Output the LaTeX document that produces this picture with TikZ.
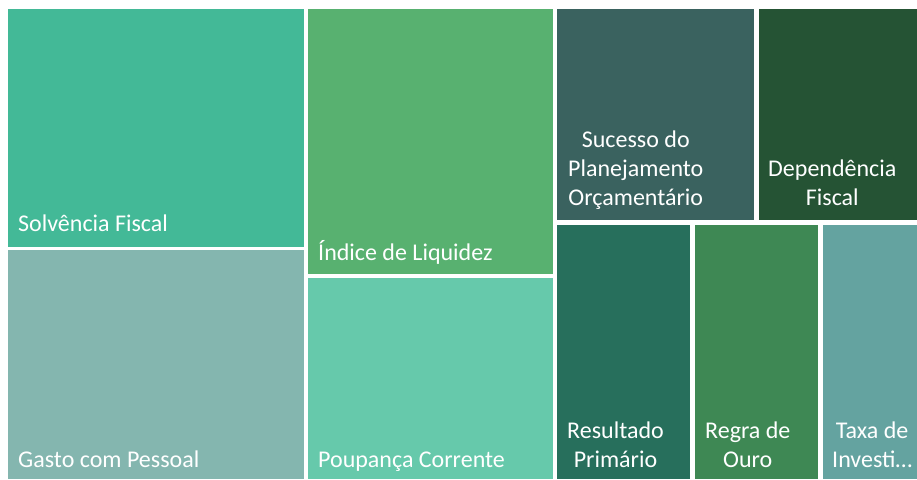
\documentclass[tikz,border=0pt]{standalone}
\usepackage{fontspec}
\setmainfont{Carlito}
\definecolor{cSolv}{RGB}{67,185,151}
\definecolor{cGasto}{RGB}{132,182,175}
\definecolor{cIndice}{RGB}{88,177,112}
\definecolor{cPoup}{RGB}{102,201,171}
\definecolor{cSuc}{RGB}{58,98,95}
\definecolor{cDep}{RGB}{37,83,52}
\definecolor{cRes}{RGB}{39,111,92}
\definecolor{cRegra}{RGB}{62,136,84}
\definecolor{cTaxa}{RGB}{100,163,160}
\tikzset{
	cell/.style={text=white, font=\fontsize{24}{29}\selectfont, align=center,
		anchor=south west, inner sep=0pt, text depth=0pt}
}
\begin{document}
\begin{tikzpicture}[x=1pt,y=-1pt]
		\useasboundingbox (0,0) rectangle (917,479);
		\fill[cSolv] (8,9) rectangle (304,247);
		\fill[cGasto] (8,250) rectangle (304,479);
		\fill[cIndice] (308,9) rectangle (553,274);
		\fill[cPoup] (308,278) rectangle (553,479);
		\fill[cSuc] (557,9) rectangle (754,220);
		\fill[cDep] (759,9) rectangle (917,220);
		\fill[cRes] (557,225) rectangle (690,479);
		\fill[cRegra] (695,225) rectangle (818,479);
		\fill[cTaxa] (823,225) rectangle (917,479);
		\node[cell] (solvencia) at (18,232) {Solvência Fiscal};
		\node[cell] (gasto) at (18,468) {Gasto com Pessoal};
		\node[cell] (indice) at (318,261) {Índice de Liquidez};
		\node[cell] (poupanca) at (318,468) {Poupança Corrente};
		\node[cell] (sucesso) at (568,206) {Sucesso do\\Planejamento\\Orçamentário};
		\node[cell] (dependencia) at (768,206) {Dependência\\Fiscal};
		\node[cell] (resultado) at (567,468) {Resultado\\Primário};
		\node[cell] (regra) at (705,468) {Regra de\\Ouro};
		\node[cell] (taxa) at (832,468) {Taxa de\\Investi…};
	\end{tikzpicture}
\end{document}
